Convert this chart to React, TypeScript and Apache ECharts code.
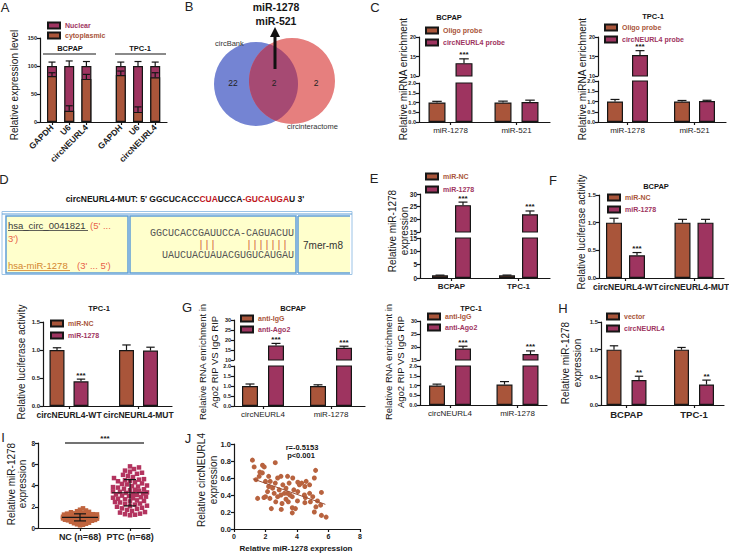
import React, { useEffect, useRef } from "react";
import * as echarts from "echarts";

// ================= DATA =================
// A: subcellular fractionation (%)
const aCellLines = ["BCPAP", "TPC-1"];
const aGenes = ["GAPDH", "U6", "circNEURL4"];
const aSeries = ["Nuclear", "cytoplasmic"];
const aCytoplasmic = [82, 20, 77, 84, 18, 80];
const aCytoplasmicErr = [6, 9, 8, 7, 9, 8];
const aNuclear = [18, 80, 23, 16, 82, 20];
const aNuclearErr = [7, 9, 8, 7, 8, 7];

// B: Venn
const bSets = ["circBank", "circinteractome"];
const bCounts = ["22", "2", "2"];
const bShared = ["miR-1278", "miR-521"];

// C: RNA pull-down
const cMirnas = ["miR-1278", "miR-521"];
const cSeries = ["Oligo probe", "circNEURL4 probe"];
const cBcpapOligo = [1.0, 1.0];
const cBcpapOligoErr = [0.06, 0.07];
const cBcpapProbe = [13.3, 1.02];
const cBcpapProbeErr = [1.1, 0.1];
const cTpcOligo = [1.0, 1.0];
const cTpcOligoErr = [0.1, 0.05];
const cTpcProbe = [15.4, 1.02];
const cTpcProbeErr = [1.1, 0.04];
const cStars = ["***", ""];

// D: binding site
const dMutParts: [string, string][] = [
  ["circNEURL4-MUT: 5' GGCUCACC", "k"],
  ["CUA", "r"],
  ["UCCA", "k"],
  ["-GUCAUGA", "r"],
  ["U 3'", "k"],
];
const dCirc = "hsa_circ_0041821";
const dCircDir1 = "(5' ...";
const dCircDir2 = "3')";
const dMir = "hsa-miR-1278";
const dMirDir = "(3' ... 5')";
const dTarget = "GGCUCACCGAUUCCA-CAGUACUU";
const dPairs = ["|||", "|||||||"];
const dMirSeq = "UAUCUACUAUACGUGUCAUGAU";
const dSite = "7mer-m8";

// E: mimic efficiency
const eCells = ["BCPAP", "TPC-1"];
const eSeries = ["miR-NC", "miR-1278"];
const eNC = [1.0, 1.0];
const eNCErr = [0.08, 0.1];
const eMiR = [25.6, 22.0];
const eMiRErr = [1.2, 1.3];
const eStars = ["***", "***"];

// F: luciferase
const fConstructs = ["circNEURL4-WT", "circNEURL4-MUT"];
const fBcpapNC = [1.0, 1.0];
const fBcpapNCErr = [0.08, 0.06];
const fBcpapMiR = [0.41, 1.0];
const fBcpapMiRErr = [0.05, 0.06];
const fTpcNC = [1.0, 1.0];
const fTpcNCErr = [0.04, 0.09];
const fTpcMiR = [0.44, 0.99];
const fTpcMiRErr = [0.04, 0.06];
const fStars = ["***", ""];

// G: RIP
const gTargets = ["circNEURL4", "miR-1278"];
const gSeries = ["anti-IgG", "anti-Ago2"];
const gBcpapIgG = [1.0, 1.0];
const gBcpapIgGErr = [0.1, 0.06];
const gBcpapAgo2 = [17.3, 16.1];
const gBcpapAgo2Err = [1.0, 0.8];
const gTpcIgG = [1.0, 1.05];
const gTpcIgGErr = [0.07, 0.15];
const gTpcAgo2 = [19.4, 17.3];
const gTpcAgo2Err = [0.9, 1.2];
const gStars = ["***", "***"];

// H
const hCells = ["BCPAP", "TPC-1"];
const hSeries = ["vector", "circNEURL4"];
const hVector = [1.0, 1.0];
const hVectorErr = [0.07, 0.04];
const hCirc = [0.45, 0.37];
const hCircErr = [0.07, 0.08];
const hStars = ["**", "**"];

// I: tissue expression
const iGroups = ["NC (n=68)", "PTC (n=68)"];
const iNC = [
  1.85, 1.72, 1.65, 1.58, 1.52, 1.48, 1.45, 1.4, 1.38, 1.35,
  1.32, 1.3, 1.28, 1.26, 1.24, 1.22, 1.2, 1.18, 1.17, 1.15,
  1.14, 1.12, 1.11, 1.1, 1.09, 1.08, 1.07, 1.06, 1.05, 1.04,
  1.03, 1.02, 1.01, 1.0, 1.0, 0.99, 0.98, 0.97, 0.96, 0.95,
  0.94, 0.93, 0.92, 0.91, 0.9, 0.89, 0.88, 0.87, 0.85, 0.84,
  0.82, 0.8, 0.78, 0.76, 0.74, 0.72, 0.7, 0.68, 0.65, 0.62,
  0.58, 0.55, 0.5, 0.45, 0.4, 0.35, 0.3, 0.25,
];
const iPTC = [
  5.8, 5.7, 5.55, 5.4, 5.3, 5.2, 5.1, 5.0, 4.9, 4.8,
  4.7, 4.6, 4.55, 4.5, 4.45, 4.4, 4.3, 4.2, 4.15, 4.1,
  4.0, 3.95, 3.9, 3.85, 3.8, 3.7, 3.65, 3.6, 3.55, 3.5,
  3.45, 3.4, 3.35, 3.3, 3.25, 3.2, 3.15, 3.1, 3.05, 3.0,
  2.95, 2.9, 2.85, 2.8, 2.75, 2.7, 2.6, 2.55, 2.5, 2.45,
  2.4, 2.3, 2.25, 2.2, 2.1, 2.05, 2.0, 1.9, 1.85, 1.8,
  1.7, 1.6, 1.5, 1.45, 1.35, 1.3, 1.25, 1.2,
];
const iSig = "***";

// J: correlation
const jX = [
  1.17, 1.28, 1.81, 1.92, 1.64, 2.62, 1.4, 1.6, 2.2, 2.77,
  2.98, 3.4, 3.73, 2.0, 2.3, 2.62, 3.1, 3.5, 4.05, 4.3,
  4.58, 5.1, 5.18, 2.2, 2.45, 2.87, 3.3, 3.8, 4.15, 4.5,
  2.13, 2.55, 2.98, 3.4, 4.05, 4.47, 4.8, 5.55, 2.0, 2.28,
  2.77, 3.3, 3.7, 4.53, 5.0, 1.5, 1.9, 2.65, 3.05, 3.45,
  4.03, 4.5, 4.85, 5.3, 2.37, 3.0, 3.7, 3.9, 5.1, 5.2,
  5.5, 5.55, 5.85, 3.7, 3.2, 3.55, 4.8, 1.8,
];
const jY = [
  0.81, 0.73, 0.75, 0.73, 0.67, 0.78, 0.58, 0.62, 0.62, 0.6,
  0.62, 0.62, 0.6, 0.56, 0.56, 0.54, 0.52, 0.54, 0.55, 0.54,
  0.56, 0.6, 0.69, 0.5, 0.48, 0.46, 0.48, 0.46, 0.52, 0.5,
  0.44, 0.42, 0.4, 0.42, 0.44, 0.4, 0.42, 0.43, 0.38, 0.36,
  0.38, 0.35, 0.38, 0.37, 0.38, 0.36, 0.37, 0.32, 0.3, 0.32,
  0.33, 0.31, 0.32, 0.33, 0.24, 0.23, 0.25, 0.24, 0.2, 0.26,
  0.28, 0.16, 0.14, 0.19, 0.42, 0.4, 0.52, 0.66,
];
const jFitX = [1.2, 5.8];
const jFitY = [0.59, 0.29];
const jStats = ["r=-0.5153", "p<0.001"];
const jXTitle = "Relative miR-1278 expression";

// ================= STYLE =================
const FONT = "'Liberation Sans', Arial, Helvetica, sans-serif";
const MONO = "'Liberation Mono', 'DejaVu Sans Mono', monospace";
const BROWN = "#A9553A";
const PURPLE = "#9E3460";
const INK = "#161616";

function txt(x: number, y: number, text: string, o: any = {}) {
  const align = o.align || "center";
  const va = o.va || "middle";
  return {
    type: "text",
    x,
    y,
    rotation: o.rot || 0,
    silent: true,
    z: 10,
    style: {
      text,
      fill: o.color || INK,
      fontSize: o.size || 10,
      fontWeight: o.weight || "normal",
      fontFamily: o.family || FONT,
      lineHeight: o.lh,
      align,
      verticalAlign: va,
      textAlign: align,
      textVerticalAlign: va,
      rich: o.rich,
    },
  };
}
function seg(x1: number, y1: number, x2: number, y2: number, color = INK, w = 1.2) {
  return { type: "line", silent: true, z: 10, shape: { x1, y1, x2, y2 }, style: { stroke: color, lineWidth: w } };
}

function buildOption() {
  const grid: any[] = [];
  const xAxis: any[] = [];
  const yAxis: any[] = [];
  const series: any[] = [];
  const legend: any[] = [];
  const graphic: any[] = [];

  const axLine = { show: true, onZero: false, lineStyle: { color: INK, width: 1.2 } };
  const axTick = { show: true, length: 3, lineStyle: { color: INK, width: 1.2 } };

  const yAx = (gi: number, s: any, font: number) => ({
    gridIndex: gi,
    type: "value",
    min: s.min,
    max: s.max,
    interval: s.interval,
    axisLine: axLine,
    axisTick: axTick,
    splitLine: { show: false },
    axisLabel: {
      fontSize: font,
      fontWeight: "bold",
      color: "#222",
      fontFamily: FONT,
      margin: 3,
      formatter: (v: number) => v.toFixed(s.dec),
    },
  });

  const errSeries = (gi: number, pts: number[][], capHalf: number) => ({
    type: "custom",
    xAxisIndex: gi,
    yAxisIndex: gi,
    silent: true,
    z: 4,
    data: pts,
    renderItem: (_p: any, api: any) => {
      const x = api.value(0);
      const v = api.value(1);
      const e = api.value(2);
      const a = api.coord([x, v]);
      const b = api.coord([x, v + e]);
      return {
        type: "group",
        children: [
          { type: "line", shape: { x1: a[0], y1: a[1], x2: b[0], y2: b[1] }, style: { stroke: INK, lineWidth: 1.2 } },
          { type: "line", shape: { x1: b[0] - capHalf, y1: b[1], x2: b[0] + capHalf, y2: b[1] }, style: { stroke: INK, lineWidth: 1.2 } },
        ],
      };
    },
  });

  const starSeries = (gi: number, pts: number[][], labels: string[]) => ({
    type: "custom",
    xAxisIndex: gi,
    yAxisIndex: gi,
    silent: true,
    z: 5,
    data: pts,
    renderItem: (_p: any, api: any) => {
      const p = api.coord([api.value(0), api.value(1)]);
      const lab = labels[api.value(2)] || "";
      return {
        type: "text",
        x: p[0],
        y: p[1] - 4,
        style: {
          text: lab,
          fontSize: 8,
          fontWeight: "bold",
          fill: INK,
          fontFamily: FONT,
          align: "center",
          verticalAlign: "middle",
          textAlign: "center",
          textVerticalAlign: "middle",
        },
      };
    },
  });

  const addLegend = (left: number, center: number, spacing: number, names: string[], colors: string[]) => {
    legend.push({
      left,
      top: center - 3.5,
      orient: "vertical",
      padding: 0,
      itemWidth: 12,
      itemHeight: 6,
      itemGap: spacing - 7,
      icon: "rect",
      selectedMode: false,
      textStyle: { fontSize: 7, fontWeight: "bold", fontFamily: FONT },
      data: names.map((n, i) => ({ name: n, textStyle: { color: colors[i] } })),
    });
  };

  // ---------- generic 2-group bar panel (optionally broken axis) ----------
  const addBarPanel = (p: any) => {
    const xMin = 1 - (p.c1 - p.axisX) / p.band;
    const xMax = xMin + p.width / p.band;
    const off = p.half / p.band;
    const ticks = p.cats.map((_: any, i: number) => i + 1);
    p.segs.forEach((s: any, si: number) => {
      const gi = grid.length;
      grid.push({ left: p.axisX, top: s.top, width: p.width, height: s.height, containLabel: false, outerBoundsMode: "none" });
      xAxis.push({
        gridIndex: gi,
        type: "value",
        min: xMin,
        max: xMax,
        show: si === 0,
        axisLine: axLine,
        axisTick: { ...axTick, customValues: ticks },
        splitLine: { show: false },
        axisLabel: {
          customValues: ticks,
          formatter: (v: number) => p.cats[Math.round(v) - 1] || "",
          fontSize: p.catSize,
          fontWeight: p.catWeight,
          color: "#222",
          fontFamily: FONT,
          margin: 4,
        },
      });
      yAxis.push(yAx(gi, s, p.tickSize));
      [p.a, p.b].forEach((sr: any, k: number) => {
        const dx = k === 0 ? -off : off;
        series.push({
          type: "bar",
          name: sr.name,
          xAxisIndex: gi,
          yAxisIndex: gi,
          barWidth: p.barW,
          barGap: "-100%",
          silent: true,
          data: sr.values.map((v: number, i: number) => [i + 1 + dx, v]),
          itemStyle: { color: k === 0 ? BROWN : PURPLE, borderColor: INK, borderWidth: 1.2 },
        });
        const pts = sr.values
          .map((v: number, i: number) => [i + 1 + dx, v, sr.errs[i], i])
          .filter((q: number[]) => q[1] >= s.min && q[1] + q[2] <= s.max + 1e-9);
        if (pts.length) series.push(errSeries(gi, pts, p.barW * 0.28));
        if (k === 1 && p.stars) {
          const sp = pts.map((q: number[]) => [q[0], q[1] + q[2], q[3]]);
          if (sp.length) series.push(starSeries(gi, sp, p.stars));
        }
      });
    });
  };

  // ================= A =================
  {
    const slots = [1, 2, 3, 5, 6, 7];
    const gi = grid.length;
    const pxu = 17.2;
    const xMin = 1 - (52 - 40) / pxu;
    grid.push({ left: 40, top: 38, width: 127, height: 84, containLabel: false, outerBoundsMode: "none" });
    xAxis.push({
      gridIndex: gi,
      type: "value",
      min: xMin,
      max: xMin + 127 / pxu,
      axisLine: axLine,
      axisTick: { ...axTick, customValues: slots },
      splitLine: { show: false },
      axisLabel: {
        customValues: slots,
        rotate: 45,
        formatter: (v: number) => aGenes[slots.indexOf(Math.round(v)) % 3] || "",
        fontSize: 8.5,
        fontWeight: "bold",
        color: "#222",
        fontFamily: FONT,
        margin: 4,
      },
    });
    yAxis.push(yAx(gi, { min: 0, max: 150, interval: 50, dec: 0 }, 5.5));
    const totals = aCytoplasmic.map((c, i) => c + aNuclear[i]);
    series.push({
      type: "bar", name: aSeries[0], xAxisIndex: gi, yAxisIndex: gi, barWidth: 10, barGap: "-100%", silent: true,
      data: totals.map((v, i) => [slots[i], v]),
      itemStyle: { color: PURPLE, borderColor: INK, borderWidth: 1.2 },
    });
    series.push({
      type: "bar", name: aSeries[1], xAxisIndex: gi, yAxisIndex: gi, barWidth: 10, barGap: "-100%", silent: true,
      data: aCytoplasmic.map((v, i) => [slots[i], v]),
      itemStyle: { color: BROWN, borderColor: INK, borderWidth: 1.2 },
    });
    series.push(errSeries(gi, totals.map((v, i) => [slots[i], v, aNuclearErr[i]]), 3.5));
    series.push(errSeries(gi, aCytoplasmic.map((v, i) => [slots[i], v, aCytoplasmicErr[i]]), 3.5));
    addLegend(47, 25, 9, aSeries, [PURPLE, BROWN]);
    graphic.push(txt(70, 48, aCellLines[0], { size: 7.5, weight: "bold" }));
    graphic.push(seg(43, 54, 96, 54));
    graphic.push(txt(140, 48, aCellLines[1], { size: 7.5, weight: "bold" }));
    graphic.push(seg(115, 54, 166, 54));
    graphic.push(txt(14, 85, "Relative expression level", { rot: Math.PI / 2, size: 10 }));
  }

  // ================= C =================
  addBarPanel({
    axisX: 419, width: 131, c1: 450.5, band: 66, half: 13.5, barW: 17,
    segs: [
      { top: 83, height: 39, min: 0, max: 2, interval: 0.5, dec: 1 },
      { top: 37, height: 39, min: 10, max: 20, interval: 5, dec: 0 },
    ],
    cats: cMirnas, catSize: 8, catWeight: "normal", tickSize: 5.5,
    a: { name: cSeries[0], values: cBcpapOligo, errs: cBcpapOligoErr },
    b: { name: cSeries[1], values: cBcpapProbe, errs: cBcpapProbeErr },
    stars: cStars,
  });
  addLegend(425, 30, 11, cSeries, [BROWN, PURPLE]);
  graphic.push(txt(449, 17, "BCPAP", { size: 7.5, weight: "bold" }));
  graphic.push(txt(403, 79, "Relative miRNA enrichment", { rot: Math.PI / 2, size: 10 }));

  addBarPanel({
    axisX: 598, width: 128, c1: 627.5, band: 67, half: 12.5, barW: 16,
    segs: [
      { top: 81, height: 41, min: 0, max: 2, interval: 0.5, dec: 1 },
      { top: 37, height: 39, min: 10, max: 20, interval: 5, dec: 0 },
    ],
    cats: cMirnas, catSize: 8, catWeight: "normal", tickSize: 5.5,
    a: { name: cSeries[0], values: cTpcOligo, errs: cTpcOligoErr },
    b: { name: cSeries[1], values: cTpcProbe, errs: cTpcProbeErr },
    stars: cStars,
  });
  addLegend(604, 27, 11, cSeries, [BROWN, PURPLE]);
  graphic.push(txt(653, 16, "TPC-1", { size: 7.5, weight: "bold" }));
  graphic.push(txt(582, 79, "Relative miRNA enrichment", { rot: Math.PI / 2, size: 10 }));

  // ================= E =================
  addBarPanel({
    axisX: 420, width: 130, c1: 451.5, band: 67, half: 11.5, barW: 16,
    segs: [
      { top: 238, height: 40, min: 0, max: 15, interval: 5, dec: 0 },
      { top: 194, height: 38, min: 15, max: 30, interval: 5, dec: 0 },
    ],
    cats: eCells, catSize: 8, catWeight: "bold", tickSize: 6.5,
    a: { name: eSeries[0], values: eNC, errs: eNCErr },
    b: { name: eSeries[1], values: eMiR, errs: eMiRErr },
    stars: eStars,
  });
  addLegend(425, 176, 12, eSeries, [BROWN, PURPLE]);
  graphic.push(txt(398, 231, "Relative miR-1278\nexpression", { rot: Math.PI / 2, size: 10, lh: 12 }));

  // ================= F =================
  addBarPanel({
    axisX: 599, width: 125, c1: 625.5, band: 68.5, half: 11.5, barW: 16,
    segs: [{ top: 195, height: 83, min: 0, max: 1.5, interval: 0.5, dec: 1 }],
    cats: fConstructs, catSize: 8.5, catWeight: "bold", tickSize: 6,
    a: { name: eSeries[0], values: fBcpapNC, errs: fBcpapNCErr },
    b: { name: eSeries[1], values: fBcpapMiR, errs: fBcpapMiRErr },
    stars: fStars,
  });
  addLegend(607, 197, 11, eSeries, [BROWN, PURPLE]);
  graphic.push(txt(656, 186, "BCPAP", { size: 7.5, weight: "bold" }));
  graphic.push(txt(581, 232, "Relative luciferase activity", { rot: Math.PI / 2, size: 10 }));

  addBarPanel({
    axisX: 43, width: 129, c1: 69, band: 69.5, half: 12, barW: 15,
    segs: [{ top: 322, height: 84, min: 0, max: 1.5, interval: 0.5, dec: 1 }],
    cats: fConstructs, catSize: 8.5, catWeight: "bold", tickSize: 6,
    a: { name: eSeries[0], values: fTpcNC, errs: fTpcNCErr },
    b: { name: eSeries[1], values: fTpcMiR, errs: fTpcMiRErr },
    stars: fStars,
  });
  addLegend(50, 323, 11, eSeries, [BROWN, PURPLE]);
  graphic.push(txt(99, 308, "TPC-1", { size: 7.5, weight: "bold" }));
  graphic.push(txt(21, 362, "Relative luciferase activity", { rot: Math.PI / 2, size: 10 }));

  // ================= G =================
  addBarPanel({
    axisX: 234, width: 131, c1: 263, band: 68, half: 13, barW: 16,
    segs: [
      { top: 366, height: 40, min: 0, max: 2, interval: 0.5, dec: 1 },
      { top: 320, height: 40, min: 10, max: 30, interval: 5, dec: 0 },
    ],
    cats: gTargets, catSize: 8, catWeight: "normal", tickSize: 5.5,
    a: { name: gSeries[0], values: gBcpapIgG, errs: gBcpapIgGErr },
    b: { name: gSeries[1], values: gBcpapAgo2, errs: gBcpapAgo2Err },
    stars: gStars,
  });
  addLegend(240, 318, 10, gSeries, [BROWN, PURPLE]);
  graphic.push(txt(293, 308, "BCPAP", { size: 7.5, weight: "bold" }));
  graphic.push(txt(208, 362, "Relative RNA enrichment in\nAgo2 RIP VS IgG RIP", { rot: Math.PI / 2, size: 9.5, lh: 12 }));

  addBarPanel({
    axisX: 420, width: 127, c1: 450, band: 67.5, half: 13, barW: 16,
    segs: [
      { top: 366, height: 39, min: 0, max: 2, interval: 0.5, dec: 1 },
      { top: 321, height: 39, min: 15, max: 30, interval: 5, dec: 0 },
    ],
    cats: gTargets, catSize: 8, catWeight: "normal", tickSize: 5.5,
    a: { name: gSeries[0], values: gTpcIgG, errs: gTpcIgGErr },
    b: { name: gSeries[1], values: gTpcAgo2, errs: gTpcAgo2Err },
    stars: gStars,
  });
  addLegend(427, 316, 10, gSeries, [BROWN, PURPLE]);
  graphic.push(txt(471, 308, "TPC-1", { size: 7.5, weight: "bold" }));
  graphic.push(txt(394, 362, "Relative RNA enrichment in\nAgo2 RIP VS IgG RIP", { rot: Math.PI / 2, size: 9.5, lh: 12 }));

  // ================= H =================
  addBarPanel({
    axisX: 601, width: 123, c1: 626.5, band: 67.5, half: 12.5, barW: 15,
    segs: [{ top: 322, height: 83, min: 0, max: 1.5, interval: 0.5, dec: 1 }],
    cats: hCells, catSize: 9.5, catWeight: "bold", tickSize: 6,
    a: { name: hSeries[0], values: hVector, errs: hVectorErr },
    b: { name: hSeries[1], values: hCirc, errs: hCircErr },
    stars: hStars,
  });
  addLegend(606, 316, 11, hSeries, [BROWN, PURPLE]);
  graphic.push(txt(571, 363, "Relative miR-1278\nexpression", { rot: Math.PI / 2, size: 10, lh: 12 }));

  // ================= I =================
  {
    const gi = grid.length;
    const left = 38, width = 112, band = 50;
    const xMin = 1 - (80 - left) / band;
    const xMax = xMin + width / band;
    grid.push({ left, top: 443, width, height: 85, containLabel: false, outerBoundsMode: "none" });
    xAxis.push({
      gridIndex: gi, type: "value", min: xMin, max: xMax,
      axisLine: axLine, axisTick: { ...axTick, customValues: [1, 2] }, splitLine: { show: false },
      axisLabel: {
        customValues: [1, 2], formatter: (v: number) => iGroups[Math.round(v) - 1] || "",
        fontSize: 9, fontWeight: "bold", color: "#222", fontFamily: FONT, margin: 4,
      },
    });
    yAxis.push(yAx(gi, { min: 0, max: 8, interval: 2, dec: 0 }, 6.5));
    const pxY = 85 / 8;
    // deterministic bee-swarm layout (horizontal spread only, in px)
    const swarm = (vals: number[], minDist: number, maxHalf: number) => {
      const order = vals.map((_, i) => i).sort((a, b) => vals[a] - vals[b]);
      const placed: number[][] = [];
      const out = vals.map(() => 0);
      order.forEach((i) => {
        const y = vals[i] * pxY;
        let best = 0;
        let bestD = -1;
        for (let k = 0; k <= 2 * maxHalf; k++) {
          const x = (k % 2 === 1 ? 1 : -1) * Math.ceil(k / 2);
          const d = placed.reduce((m, q) => Math.min(m, Math.hypot(q[0] - x, q[1] - y)), Infinity);
          if (d >= minDist) {
            best = x;
            break;
          }
          if (d > bestD) {
            bestD = d;
            best = x;
          }
        }
        placed.push([best, y]);
        out[i] = best / band;
      });
      return out;
    };
    const ncOff = swarm(iNC, 3, 17);
    const ptcOff = swarm(iPTC, 4.6, 17);
    series.push({
      type: "scatter", xAxisIndex: gi, yAxisIndex: gi, symbol: "rect", symbolSize: 4.5, silent: true,
      data: iNC.map((v, i) => [1 + ncOff[i], v]), itemStyle: { color: "#C0643E", opacity: 1 },
    });
    series.push({
      type: "scatter", xAxisIndex: gi, yAxisIndex: gi, symbol: "rect", symbolSize: 4.5, silent: true,
      data: iPTC.map((v, i) => [2 + ptcOff[i], v]), itemStyle: { color: "#B3345F", opacity: 1 },
    });
    const stat = (a: number[]) => {
      const m = a.reduce((s, v) => s + v, 0) / a.length;
      const sd = Math.sqrt(a.reduce((s, v) => s + (v - m) * (v - m), 0) / (a.length - 1));
      return [m, sd];
    };
    const sNC = stat(iNC);
    const sPTC = stat(iPTC);
    series.push({
      type: "custom", xAxisIndex: gi, yAxisIndex: gi, silent: true, z: 6,
      data: [[1, sNC[0], sNC[1]], [2, sPTC[0], sPTC[1]]],
      renderItem: (_p: any, api: any) => {
        const x = api.value(0), m = api.value(1), s = api.value(2);
        const pm = api.coord([x, m]), pt = api.coord([x, m + s]), pb = api.coord([x, m - s]);
        const st = { stroke: INK, lineWidth: 1.2 };
        return {
          type: "group",
          children: [
            { type: "line", shape: { x1: pm[0] - 18, y1: pm[1], x2: pm[0] + 18, y2: pm[1] }, style: st },
            { type: "line", shape: { x1: pt[0], y1: pt[1], x2: pb[0], y2: pb[1] }, style: st },
            { type: "line", shape: { x1: pt[0] - 6, y1: pt[1], x2: pt[0] + 6, y2: pt[1] }, style: st },
            { type: "line", shape: { x1: pb[0] - 6, y1: pb[1], x2: pb[0] + 6, y2: pb[1] }, style: st },
          ],
        };
      },
    });
    series.push({
      type: "custom", xAxisIndex: gi, yAxisIndex: gi, silent: true, z: 6,
      data: [[1, 2, 8]],
      renderItem: (_p: any, api: any) => {
        const a = api.coord([api.value(0), api.value(2)]);
        const b = api.coord([api.value(1), api.value(2)]);
        return {
          type: "group",
          children: [
            { type: "line", shape: { x1: a[0] - 15, y1: a[1], x2: b[0] + 14, y2: b[1] }, style: { stroke: "#444", lineWidth: 1.5 } },
            {
              type: "text", x: (a[0] + b[0]) / 2, y: a[1] - 5,
              style: { text: iSig, fontSize: 8, fontWeight: "bold", fill: INK, fontFamily: FONT, align: "center", verticalAlign: "middle", textAlign: "center", textVerticalAlign: "middle" },
            },
          ],
        };
      },
    });
    graphic.push(txt(17, 484, "Relative miR-1278\nexpression", { rot: Math.PI / 2, size: 10, lh: 11.5 }));
  }

  // ================= J =================
  {
    const gi = grid.length;
    grid.push({ left: 234, top: 444, width: 126, height: 85, containLabel: false, outerBoundsMode: "none" });
    xAxis.push({
      gridIndex: gi, type: "value", min: 0, max: 8, interval: 2,
      axisLine: axLine, axisTick: axTick, splitLine: { show: false },
      axisLabel: { fontSize: 7, fontWeight: "bold", color: "#222", fontFamily: FONT, margin: 4 },
    });
    yAxis.push(yAx(gi, { min: 0, max: 1, interval: 0.2, dec: 1 }, 7.5));
    series.push({
      type: "scatter", xAxisIndex: gi, yAxisIndex: gi, symbol: "circle", symbolSize: 5, silent: true,
      data: jX.map((x, i) => [x, jY[i]]), itemStyle: { color: "#B8633F", opacity: 1 },
    });
    series.push({
      type: "line", xAxisIndex: gi, yAxisIndex: gi, symbol: "none", silent: true, z: 3,
      data: jFitX.map((x, i) => [x, jFitY[i]]), lineStyle: { color: "#9A4E34", width: 1 },
    });
    graphic.push(txt(302, 447, jStats[0], { size: 7.5, weight: "bold" }));
    graphic.push(txt(301, 455.5, jStats[1], { size: 7.5, weight: "bold" }));
    graphic.push(txt(296, 548, jXTitle, { size: 8, weight: "bold" }));
    graphic.push(txt(207, 480, "Relative circNEURL4\nexpression", { rot: Math.PI / 2, size: 10, lh: 12 }));
  }

  // ================= B (Venn) =================
  {
    const cb = { cx: 256, cy: 84, r: 42 };
    const cr = { cx: 292, cy: 81, r: 43 };
    graphic.push({ type: "circle", silent: true, z: 1, shape: { cx: cb.cx, cy: cb.cy, r: cb.r }, style: { fill: "#7484D3" } });
    graphic.push({ type: "circle", silent: true, z: 1, shape: { cx: cr.cx, cy: cr.cy, r: cr.r }, style: { fill: "#E67F7E" } });
    const arc = (c1: any, c2: any) => {
      const base = Math.atan2(c2.cy - c1.cy, c2.cx - c1.cx);
      const pts: number[][] = [];
      for (let i = -180; i <= 180; i += 1) {
        const t = base + (i * Math.PI) / 180;
        const x = c1.cx + c1.r * Math.cos(t);
        const y = c1.cy + c1.r * Math.sin(t);
        if (Math.hypot(x - c2.cx, y - c2.cy) <= c2.r) pts.push([x, y]);
      }
      return pts;
    };
    graphic.push({ type: "polygon", silent: true, z: 2, shape: { points: [...arc(cb, cr), ...arc(cr, cb)] }, style: { fill: "#A64A73" } });
    graphic.push(txt(233, 83, bCounts[0], { size: 8.5, color: "#222" }));
    graphic.push(txt(274, 83, bCounts[1], { size: 8.5, color: "#222" }));
    graphic.push(txt(316, 83, bCounts[2], { size: 8.5, color: "#222" }));
    graphic.push(txt(215, 43, bSets[0], { size: 7.5, color: "#333", align: "left" }));
    graphic.push(txt(287, 126, bSets[1], { size: 7.5, color: "#333", align: "left" }));
    graphic.push(seg(275, 69, 275, 35, "#111", 3));
    graphic.push({ type: "polygon", silent: true, z: 10, shape: { points: [[270, 37], [280, 37], [275, 27]] }, style: { fill: "#111" } });
    graphic.push(txt(276, 7, bShared[0], { size: 10.5, weight: "bold" }));
    graphic.push(txt(276, 21, bShared[1], { size: 10.5, weight: "bold" }));
  }

  // ================= D (binding site) =================
  {
    const rich: any = {
      k: { fill: INK, color: INK, fontSize: 8.5, fontWeight: "bold", fontFamily: FONT },
      r: { fill: "#C0171E", color: "#C0171E", fontSize: 8.5, fontWeight: "bold", fontFamily: FONT },
    };
    graphic.push(txt(185, 199, dMutParts.map(([s, k]) => `{${k}|${s}}`).join(""), { rich, size: 8.5, weight: "bold" }));
    const BLUE = "#5F9ED6";
    graphic.push({ type: "rect", silent: true, z: 1, shape: { x: 2, y: 211.5, width: 350, height: 63 }, style: { fill: "#fff", stroke: "#9CC3E6", lineWidth: 1 } });
    graphic.push(seg(2, 214, 352, 214, BLUE, 1));
    const cell = (x: number, w: number) => ({ type: "rect", silent: true, z: 2, shape: { x, y: 216, width: w, height: 57 }, style: { fill: "#FFFFCC", stroke: BLUE, lineWidth: 1.5 } });
    graphic.push(cell(6, 122));
    graphic.push(cell(130, 166));
    graphic.push({ type: "rect", silent: true, z: 2, shape: { x: 298, y: 216, width: 52, height: 57 }, style: { fill: "#FFFFCC" } });
    graphic.push(seg(298, 216, 350, 216, BLUE, 1.5));
    graphic.push(seg(298, 273, 350, 273, BLUE, 1.5));
    graphic.push(seg(298, 216, 298, 273, BLUE, 1.5));
    graphic.push(txt(8, 225, dCirc, { size: 9.5, color: "#3a3a3a", align: "left" }));
    graphic.push(seg(8, 230.5, 88, 230.5, "#3a3a3a", 0.8));
    graphic.push(txt(90, 225, dCircDir1, { size: 9.5, color: "#E8624A", align: "left" }));
    graphic.push(txt(8, 238, dCircDir2, { size: 9.5, color: "#E8624A", align: "left" }));
    graphic.push(txt(8, 265, dMir, { size: 9.5, color: "#D4872E", align: "left" }));
    graphic.push(seg(8, 270.5, 70, 270.5, "#D4872E", 0.8));
    graphic.push(txt(77, 265, dMirDir, { size: 9.5, color: "#E8624A", align: "left" }));
    const col = (c: number) => 150 + c * 6;
    graphic.push(txt(col(0), 233, dTarget, { size: 10, family: MONO, color: "#555", align: "left" }));
    graphic.push(txt(col(8), 245, dPairs[0], { size: 10, family: MONO, color: "#D24A3A", align: "left" }));
    graphic.push(txt(col(16), 245, dPairs[1], { size: 10, family: MONO, color: "#D24A3A", align: "left" }));
    graphic.push(txt(col(2), 255, dMirSeq, { size: 10, family: MONO, color: "#555", align: "left" }));
    graphic.push(txt(303, 245, dSite, { size: 10, color: "#333", align: "left" }));
  }

  // ================= panel letters =================
  const letters: [string, number, number][] = [
    ["A", 5, 7], ["B", 189, 6], ["C", 375, 7], ["D", 4, 179], ["E", 374, 178],
    ["F", 553, 180], ["G", 187, 307], ["H", 563, 308], ["I", 3, 437], ["J", 188, 438],
  ];
  letters.forEach(([l, x, y]) => graphic.push(txt(x, y, l, { size: 13, color: "#222" })));

  return {
    animation: false,
    backgroundColor: "#ffffff",
    textStyle: { fontFamily: FONT },
    grid,
    xAxis,
    yAxis,
    series,
    legend,
    graphic,
  };
}

export default function App() {
  const ref = useRef<HTMLDivElement>(null);
  useEffect(() => {
    if (!ref.current) return;
    const chart = echarts.init(ref.current, undefined, { renderer: "svg" });
    chart.setOption(buildOption() as any);
    return () => chart.dispose();
  }, []);
  return (
    <div
      ref={ref}
      style={{ position: "absolute", left: 0, top: 0, width: 729, height: 553, background: "#fff" }}
    />
  );
}
